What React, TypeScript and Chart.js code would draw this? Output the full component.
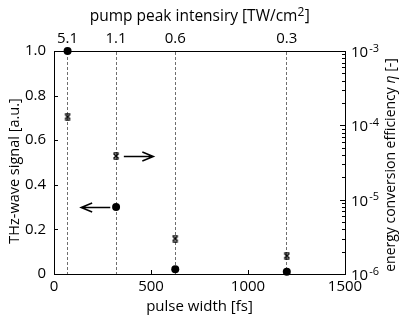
import React, { useEffect, useRef } from "react";
import { Chart, registerables } from "chart.js";

Chart.register(...registerables);

// ---- data ----
const pulseWidths = [70, 320, 625, 1200]; // fs
const intensityLabels = ["5.1", "1.1", "0.6", "0.3"]; // TW/cm^2
const thzSignal = [1.0, 0.3, 0.021, 0.01]; // a.u.
const efficiency = [1.31e-4, 3.87e-5, 3.0e-6, 1.76e-6]; // eta

const xTickValues = [0, 500, 1000, 1500];
const yTickValues = [0, 0.2, 0.4, 0.6, 0.8, 1.0];
const y2Decades = [-6, -5, -4, -3];

// arrows (data coords)
const arrowTailX = [290, 360];
const arrowTipX = [140, 512];
const arrowY = [0.3, 3.87e-5];
const arrowAxis = ["y", "y2"];

const FONT = "'Open Sans', 'DejaVu Sans', sans-serif";

function makeStar(): HTMLCanvasElement {
  const c = document.createElement("canvas");
  c.width = 8;
  c.height = 8;
  const g = c.getContext("2d")!;
  g.strokeStyle = "#000";
  g.lineWidth = 1.6;
  g.beginPath();
  g.moveTo(1.5, 1.5);
  g.lineTo(6.5, 6.5);
  g.moveTo(1.5, 6.5);
  g.lineTo(6.5, 1.5);
  g.stroke();
  g.lineWidth = 1.2;
  g.beginPath();
  g.moveTo(1.5, 0.8);
  g.lineTo(6.5, 0.8);
  g.moveTo(1.5, 7.2);
  g.lineTo(6.5, 7.2);
  g.stroke();
  return c;
}

const decorPlugin = {
  id: "decor",
  afterDraw(chart: any) {
    const ctx = chart.ctx as CanvasRenderingContext2D;
    const { left, right, top, bottom } = chart.chartArea;
    const xs = chart.scales.x;
    const ys = chart.scales.y;
    const y2s = chart.scales.y2;
    ctx.save();
    ctx.strokeStyle = "#000";
    ctx.fillStyle = "#000";
    ctx.lineWidth = 1;
    // inward ticks
    ctx.beginPath();
    xTickValues.forEach((v) => {
      const px = Math.round(xs.getPixelForValue(v)) + 0.5;
      ctx.moveTo(px, bottom);
      ctx.lineTo(px, bottom - 4);
    });
    yTickValues.forEach((v) => {
      const py = Math.round(ys.getPixelForValue(v)) + 0.5;
      ctx.moveTo(left, py);
      ctx.lineTo(left + 4, py);
    });
    y2Decades.forEach((d) => {
      for (let m = 1; m <= 9; m++) {
        if (d === -3 && m > 1) break;
        const v = m * Math.pow(10, d);
        const py = Math.round(y2s.getPixelForValue(v)) + 0.5;
        const len = m === 1 ? 5 : 3;
        ctx.moveTo(right, py);
        ctx.lineTo(right - len, py);
      }
    });
    ctx.stroke();

    // right tick labels 10^d
    y2Decades.forEach((d) => {
      const py = y2s.getPixelForValue(Math.pow(10, d));
      ctx.font = `15px ${FONT}`;
      ctx.textAlign = "left";
      ctx.textBaseline = "alphabetic";
      const bx = right + 6;
      ctx.fillText("10", bx, py + 6);
      const w = ctx.measureText("10").width;
      ctx.font = `11px ${FONT}`;
      ctx.fillText(String(d), bx + w + 1, py + 0.5);
    });

    // top title with superscript
    const cx = (left + right) / 2;
    ctx.font = `15.5px ${FONT}`;
    const mainT = "pump peak intensiry [TW/cm";
    const supT = "2";
    const endT = "]";
    const w1 = ctx.measureText(mainT).width;
    const w3 = ctx.measureText(endT).width;
    ctx.font = `12px ${FONT}`;
    const w2 = ctx.measureText(supT).width;
    const sx = cx - (w1 + w2 + w3) / 2;
    ctx.textAlign = "left";
    ctx.textBaseline = "alphabetic";
    ctx.font = `15.5px ${FONT}`;
    ctx.fillText(mainT, sx, 21);
    ctx.font = `12px ${FONT}`;
    ctx.fillText(supT, sx + w1, 16);
    ctx.font = `15.5px ${FONT}`;
    ctx.fillText(endT, sx + w1 + w2 + 0.5, 21);

    // bottom title
    ctx.textAlign = "center";
    ctx.font = `15px ${FONT}`;
    ctx.fillText("pulse width [fs]", cx, 311);

    // left title
    ctx.save();
    ctx.translate(15, 171);
    ctx.rotate(-Math.PI / 2);
    ctx.textAlign = "center";
    ctx.textBaseline = "middle";
    ctx.font = `14.5px ${FONT}`;
    ctx.fillText("THz-wave signal [a.u.]", 0, 0);
    ctx.restore();

    // right title with italic eta
    ctx.save();
    ctx.translate(391, 165);
    ctx.rotate(-Math.PI / 2);
    ctx.textBaseline = "middle";
    const p1 = "energy conversion efficiency ";
    const p2 = "η";
    const p3 = " [-]";
    ctx.font = `14px ${FONT}`;
    const a1 = ctx.measureText(p1).width;
    const a3 = ctx.measureText(p3).width;
    ctx.font = `italic 14px ${FONT}`;
    const a2 = ctx.measureText(p2).width;
    const tx = -(a1 + a2 + a3) / 2;
    ctx.textAlign = "left";
    ctx.font = `14px ${FONT}`;
    ctx.fillText(p1, tx, 0);
    ctx.font = `italic 14px ${FONT}`;
    ctx.fillText(p2, tx + a1, 0);
    ctx.font = `14px ${FONT}`;
    ctx.fillText(p3, tx + a1 + a2, 0);
    ctx.restore();

    // arrows
    ctx.lineWidth = 1.5;
    arrowTailX.forEach((tailX, i) => {
      const sc = chart.scales[arrowAxis[i]];
      const py = Math.round(sc.getPixelForValue(arrowY[i])) + 0.5;
      const x0 = xs.getPixelForValue(tailX);
      const x1 = xs.getPixelForValue(arrowTipX[i]);
      const dir = x1 > x0 ? 1 : -1;
      ctx.beginPath();
      ctx.moveTo(x0, py);
      ctx.lineTo(x1, py);
      ctx.moveTo(x1 - dir * 11, py - 4.5);
      ctx.lineTo(x1, py);
      ctx.lineTo(x1 - dir * 11, py + 4.5);
      ctx.stroke();
    });
    ctx.restore();
  },
};

export default function App() {
  const ref = useRef<HTMLCanvasElement>(null);
  useEffect(() => {
    if (!ref.current) return;
    Chart.defaults.font.family = FONT;
    Chart.defaults.font.size = 15;
    Chart.defaults.color = "#000";
    const star = makeStar();
    const chart = new Chart(ref.current, {
      type: "scatter",
      data: {
        datasets: [
          {
            label: "THz",
            data: pulseWidths.map((x, i) => ({ x, y: thzSignal[i] })),
            xAxisID: "x",
            yAxisID: "y",
            pointRadius: 4,
            pointBackgroundColor: "#000",
            pointBorderColor: "#000",
            pointBorderWidth: 0,
            clip: false,
          } as any,
          {
            label: "eff",
            data: pulseWidths.map((x, i) => ({ x, y: efficiency[i] })),
            xAxisID: "x",
            yAxisID: "y2",
            pointStyle: star as any,
            pointRadius: 4,
            clip: false,
          } as any,
        ],
      },
      options: {
        responsive: false,
        animation: false,
        layout: { padding: 0 },
        plugins: { legend: { display: false }, tooltip: { enabled: false } },
        scales: {
          x: {
            type: "linear",
            position: "bottom",
            min: 0,
            max: 1500,
            afterBuildTicks: (s: any) => {
              s.ticks = xTickValues.map((v) => ({ value: v }));
            },
            afterFit: (s: any) => {
              s.height = 46;
            },
            grid: { display: false, drawTicks: false },
            border: { display: true, color: "#000", width: 1 },
            ticks: {
              padding: 4,
              maxRotation: 0,
              autoSkip: false,
              callback: (v: any) => String(v),
            },
          },
          x2: {
            type: "linear",
            position: "top",
            min: 0,
            max: 1500,
            afterBuildTicks: (s: any) => {
              s.ticks = pulseWidths.map((v) => ({ value: v }));
            },
            afterFit: (s: any) => {
              s.height = 51;
            },
            grid: {
              display: true,
              drawOnChartArea: true,
              drawTicks: false,
              color: "#6e6e6e",
              lineWidth: 1,
            },
            border: { display: true, color: "#000", width: 1, dash: [3, 2] },
            ticks: {
              padding: 3,
              maxRotation: 0,
              autoSkip: false,
              callback: (_v: any, i: number) => intensityLabels[i],
            },
          },
          y: {
            type: "linear",
            position: "left",
            min: 0,
            max: 1,
            afterBuildTicks: (s: any) => {
              s.ticks = yTickValues.map((v) => ({ value: v }));
            },
            afterFit: (s: any) => {
              s.width = 54;
            },
            grid: { display: false, drawTicks: false },
            border: { display: true, color: "#000", width: 1 },
            ticks: {
              padding: 8,
              callback: (v: any) => (v === 0 ? "0" : Number(v).toFixed(1)),
            },
          },
          y2: {
            type: "logarithmic",
            position: "right",
            min: 1e-6,
            max: 1e-3,
            afterFit: (s: any) => {
              s.width = 56;
            },
            grid: { display: false, drawTicks: false },
            border: { display: true, color: "#000", width: 1 },
            ticks: { display: false },
          },
        },
      } as any,
      plugins: [decorPlugin],
    });
    return () => chart.destroy();
  }, []);
  return (
    <div style={{ position: "fixed", left: 0, top: 0, width: 401, height: 320, background: "#fff" }}>
      <canvas ref={ref} width={401} height={320} style={{ display: "block" }} />
    </div>
  );
}
